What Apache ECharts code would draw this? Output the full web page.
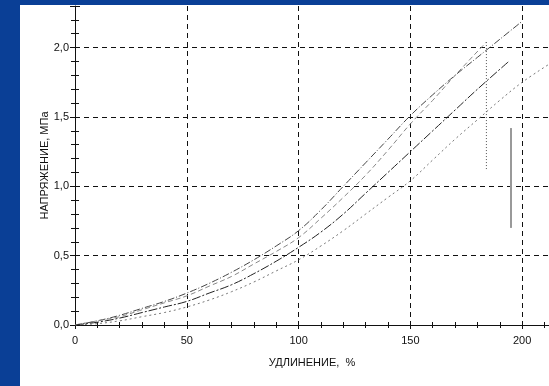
<!DOCTYPE html>
<html>
<head>
<meta charset="utf-8">
<script src="https://cdn.jsdelivr.net/npm/echarts/dist/echarts.min.js"></script>
<style>
  html, body { margin: 0; padding: 0; background: #fff; }
  #chart { width: 549px; height: 386px; }
</style>
</head>
<body>
<div id="chart"></div>
<script>
// elongation, % -> stress, MPa
const strainA = [0, 10, 20, 30, 40, 50, 60, 70, 80, 90, 100, 110, 120, 130, 140, 150, 160, 170, 180, 190, 200];
const stressA = [0, 0.03, 0.07, 0.12, 0.17, 0.23, 0.30, 0.38, 0.47, 0.57, 0.68, 0.83, 1.00, 1.17, 1.34, 1.51, 1.66, 1.80, 1.93, 2.06, 2.19];

const strainB = [0, 10, 20, 30, 40, 50, 60, 70, 80, 90, 100, 110, 120, 130, 140, 150, 160, 170, 184];
const stressB = [0, 0.03, 0.06, 0.11, 0.16, 0.21, 0.28, 0.35, 0.44, 0.53, 0.63, 0.77, 0.92, 1.08, 1.26, 1.45, 1.62, 1.80, 2.04];

const strainC = [0, 10, 20, 30, 40, 50, 60, 70, 80, 90, 100, 110, 120, 130, 140, 150, 160, 170, 180, 194];
const stressC = [0, 0.02, 0.05, 0.09, 0.13, 0.17, 0.23, 0.29, 0.37, 0.46, 0.56, 0.67, 0.80, 0.95, 1.10, 1.25, 1.40, 1.55, 1.70, 1.90];

const strainD = [0, 10, 20, 30, 40, 50, 60, 70, 80, 90, 100, 110, 120, 130, 140, 150, 160, 170, 180, 190, 200, 212];
const stressD = [0, 0.01, 0.03, 0.06, 0.09, 0.13, 0.18, 0.24, 0.31, 0.39, 0.47, 0.57, 0.68, 0.80, 0.92, 1.04, 1.19, 1.34, 1.48, 1.62, 1.75, 1.88];

// rupture marks
const dropB = [[184, 2.04], [184, 1.12]];
const breakMark = [[195, 1.42], [195, 0.70]];

const xTicks = { min: 0, max: 212, interval: 50 };
const yTicks = { min: 0, max: 2.3, interval: 0.5 };

const pairs = (xs, ys) => xs.map((x, i) => [x, ys[i]]);
const fmt = v => v.toFixed(1).replace('.', ',');
const font = 'Liberation Sans, Arial, sans-serif';

const chart = echarts.init(document.getElementById('chart'));

const baseX = {
  type: 'value', min: xTicks.min, max: xTicks.max, interval: xTicks.interval,
  position: 'bottom',
};
const baseY = {
  type: 'value', min: yTicks.min, max: yTicks.max, interval: yTicks.interval,
  position: 'left',
};

const line = (name, data, color, type, width = 1) => ({
  name, type: 'line', data, showSymbol: false, smooth: 0.4,
  lineStyle: { color, type, width }, z: 3,
});

chart.setOption({
  animation: false,
  backgroundColor: '#fff',
  grid: { left: 75, right: 0, top: 6, bottom: 61, outerBoundsMode: 'none', containLabel: false },
  graphic: [
    { type: 'rect', shape: { x: 0, y: 0, width: 20, height: 386 }, style: { fill: '#0a3f96' }, z: 100 },
    { type: 'rect', shape: { x: 0, y: 0, width: 549, height: 5 }, style: { fill: '#0a3f96' }, z: 100 },
  ],
  xAxis: [
    Object.assign({}, baseX, {
      name: 'УДЛИНЕНИЕ,  %', nameLocation: 'middle', nameGap: 32, nameMoveOverlap: false,
      nameTextStyle: { color: '#111', fontFamily: font, fontSize: 11 },
      axisLine: { lineStyle: { color: '#111', width: 1 } },
      axisTick: { show: true, length: 4, lineStyle: { color: '#111' } },
      minorTick: { show: true, splitNumber: 5, length: 3, lineStyle: { color: '#111' } },
      axisLabel: { color: '#111', fontFamily: font, fontSize: 11, margin: 10, showMaxLabel: false },
      splitLine: { show: true, showMinLine: false, showMaxLine: false, lineStyle: { color: '#111', type: [5, 4], width: 1 } },
    }),
    Object.assign({}, baseX, {
      axisLine: { show: false },
      axisTick: { show: true, inside: true, length: 4, lineStyle: { color: '#111' } },
      minorTick: { show: true, splitNumber: 5, length: 3, lineStyle: { color: '#111' } },
      axisLabel: { show: false }, splitLine: { show: false },
    }),
  ],
  yAxis: [
    Object.assign({}, baseY, {
      name: 'НАПРЯЖЕНИЕ, МПа', nameLocation: 'middle', nameGap: 25, nameRotate: 90, nameMoveOverlap: false,
      nameTextStyle: { color: '#111', fontFamily: font, fontSize: 11 },
      axisLine: { show: true, lineStyle: { color: '#111', width: 1 } },
      axisTick: { show: true, length: 5, lineStyle: { color: '#111' } },
      minorTick: { show: true, splitNumber: 5, length: 4, lineStyle: { color: '#111' } },
      axisLabel: { color: '#111', fontFamily: font, fontSize: 11, margin: 6, formatter: fmt, showMaxLabel: false },
      splitLine: { show: true, showMinLine: false, showMaxLine: false, lineStyle: { color: '#111', type: [5, 4], width: 1 } },
    }),
    Object.assign({}, baseY, {
      axisLine: { show: false },
      axisTick: { show: true, inside: true, length: 5, lineStyle: { color: '#111' } },
      minorTick: { show: true, splitNumber: 5, length: 4, lineStyle: { color: '#111' } },
      axisLabel: { show: false }, splitLine: { show: false },
    }),
  ],
  series: [
    line('A', pairs(strainA, stressA), '#444', [7, 2, 1, 2]),
    line('B', pairs(strainB, stressB), '#888', [5, 3]),
    line('C', pairs(strainC, stressC), '#222', [9, 2, 2, 2]),
    line('D', pairs(strainD, stressD), '#777', [2, 3]),
    { type: 'line', data: dropB, showSymbol: false, lineStyle: { color: '#555', type: [1, 2], width: 1 } },
    { type: 'line', data: breakMark, showSymbol: false, lineStyle: { color: '#999', width: 2 } },
  ],
});
</script>
</body>
</html>
